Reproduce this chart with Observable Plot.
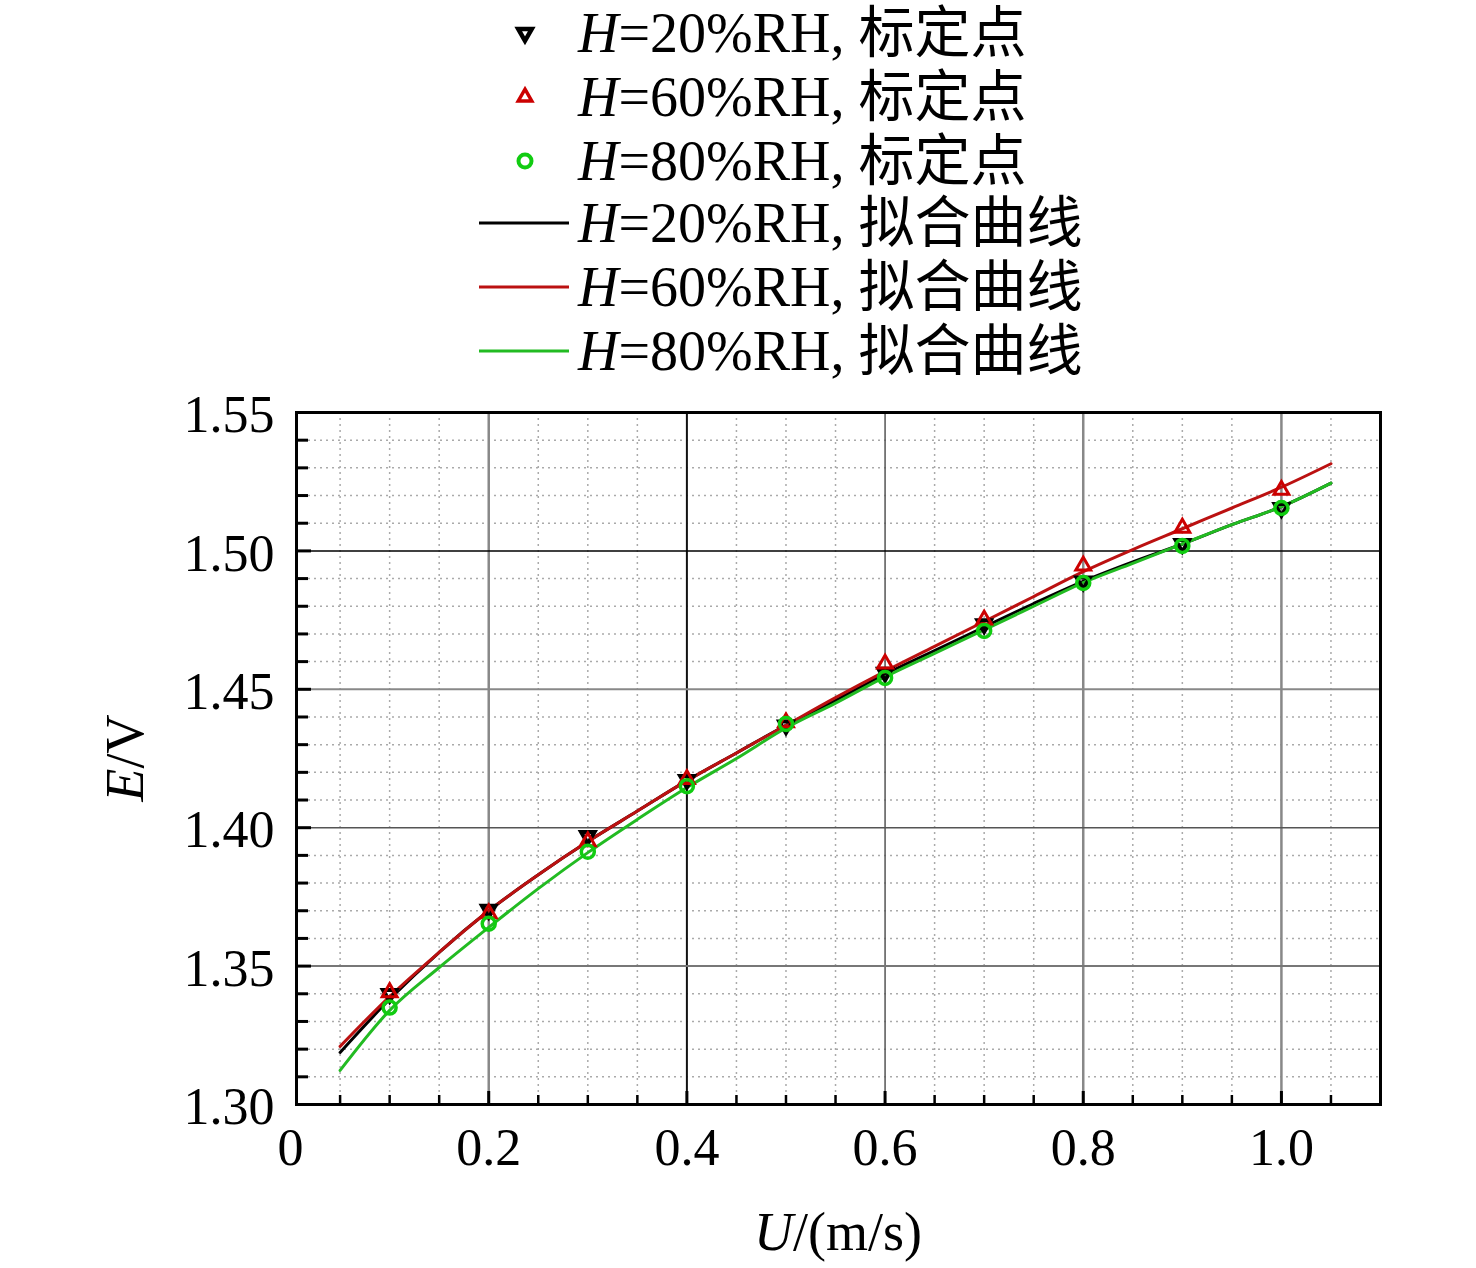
<!DOCTYPE html>
<html><head><meta charset="utf-8">
<script src="https://cdn.jsdelivr.net/npm/d3@7"></script>
<script src="https://cdn.jsdelivr.net/npm/@observablehq/plot@0.6"></script>
<style>
body{margin:0;background:#fff;}
#wrap{width:1476px;}
#legend svg,#chart svg{display:block;}
</style></head><body><div id="wrap"><div id="legend"></div><div id="chart"></div></div>
<script>
// ---- data ----
const U_cal = [0.1, 0.2, 0.3, 0.4, 0.5, 0.6, 0.7, 0.8, 0.9, 1.0];
const E20_cal = [1.340, 1.3704, 1.397, 1.4173, 1.437, 1.456, 1.4735, 1.489, 1.5025, 1.5155];
const E60_cal = [1.3405, 1.369, 1.395, 1.4175, 1.438, 1.4592, 1.4751, 1.4946, 1.5083, 1.522];
const E80_cal = [1.335, 1.3653, 1.3913, 1.415, 1.4375, 1.4541, 1.4711, 1.4884, 1.5018, 1.5155];

const U_fit = [0.05, 0.1, 0.15, 0.2, 0.25, 0.3, 0.35, 0.4, 0.45, 0.5, 0.55, 0.6, 0.65, 0.7, 0.75, 0.8, 0.85, 0.9, 0.95, 1.0, 1.05];
const E20_fit = [1.3188, 1.338, 1.355, 1.370, 1.383, 1.395, 1.406, 1.417, 1.427, 1.437, 1.446, 1.4555, 1.464, 1.4725, 1.481, 1.489, 1.496, 1.5025, 1.5095, 1.516, 1.5245];
const E60_fit = [1.321, 1.339, 1.355, 1.370, 1.383, 1.395, 1.406, 1.417, 1.427, 1.437, 1.447, 1.4565, 1.4655, 1.4745, 1.4835, 1.4925, 1.5005, 1.508, 1.5155, 1.523, 1.5315];
const E80_fit = [1.3123, 1.334, 1.3495, 1.364, 1.378, 1.391, 1.403, 1.4145, 1.425, 1.436, 1.445, 1.4545, 1.463, 1.4715, 1.480, 1.4885, 1.4955, 1.5025, 1.5095, 1.516, 1.5245];

const xLabelTicks = [0, 0.2, 0.4, 0.6, 0.8, 1.0];
const yLabelTicks = [1.30, 1.35, 1.40, 1.45, 1.50, 1.55];
const xMinorTicks = [0.05, 0.1, 0.15, 0.25, 0.3, 0.35, 0.45, 0.5, 0.55, 0.65, 0.7, 0.75, 0.85, 0.9, 0.95, 1.05];
const yMinorTicks = [1.31,1.32,1.33,1.34,1.36,1.37,1.38,1.39,1.41,1.42,1.43,1.44,1.46,1.47,1.48,1.49,1.51,1.52,1.53,1.54];

const legendSeries = ["20", "60", "80"];
const legendPointText = "标定点";
const legendFitText = "拟合曲线";
const xTitle = ["U", "/(m/s)"];
const yTitle = ["E", "/V"];

// ---- styles ----
const FONT = '"Liberation Serif","Times New Roman","Noto Sans CJK SC",serif';
const C20 = "#000000", C60 = "#bb1111", C80 = "#22bb22";
const M60 = "#cc0000", M80 = "#11cc11";

const fit20 = U_fit.map((u, i) => ({u, e: E20_fit[i]}));
const fit60 = U_fit.map((u, i) => ({u, e: E60_fit[i]}));
const fit80 = U_fit.map((u, i) => ({u, e: E80_fit[i]}));
const cal20 = U_cal.map((u, i) => ({u, e: E20_cal[i]}));
const cal60 = U_cal.map((u, i) => ({u, e: E60_cal[i]}));
const cal80 = U_cal.map((u, i) => ({u, e: E80_cal[i]}));

const fmtX = d => d === 0 ? "0" : d.toFixed(1);
const fmtY = d => d.toFixed(2);

const plot = Plot.plot({
  width: 1476, height: 878,
  marginTop: 22, marginBottom: 164, marginLeft: 296, marginRight: 96,
  style: {fontFamily: FONT, fontSize: "52px", color: "#000", background: "white", overflow: "visible"},
  x: {domain: [0.006, 1.1]},
  y: {domain: [1.30, 1.55]},
  marks: [
    Plot.gridX(xMinorTicks, {stroke: "#aaa", strokeOpacity: 1, strokeWidth: 1.5, strokeDasharray: "2,4"}),
    Plot.gridY(yMinorTicks, {stroke: "#aaa", strokeOpacity: 1, strokeWidth: 1.5, strokeDasharray: "2,4"}),
    Plot.gridX([0.2, 0.8, 1.0], {stroke: "#888", strokeOpacity: 1, strokeWidth: 2.5}),
    Plot.gridX([0.4], {stroke: "#111", strokeOpacity: 1, strokeWidth: 2}),
    Plot.gridX([0.6], {stroke: "#555", strokeOpacity: 1, strokeWidth: 1.5}),
    Plot.gridY([1.35], {stroke: "#777", strokeOpacity: 1, strokeWidth: 2}),
    Plot.gridY([1.40], {stroke: "#555", strokeOpacity: 1, strokeWidth: 1.5}),
    Plot.gridY([1.45], {stroke: "#888", strokeOpacity: 1, strokeWidth: 2}),
    Plot.gridY([1.50], {stroke: "#000", strokeOpacity: 1, strokeWidth: 1.5}),
    // inward ticks
    Plot.axisX(xMinorTicks, {tickSize: -9, tickFormat: () => "", strokeWidth: 2.5, label: null}),
    Plot.axisX(xLabelTicks.filter(d => d > 0), {tickSize: -13, tickFormat: () => "", strokeWidth: 3, label: null}),
    Plot.axisY(yMinorTicks, {tickSize: -12, tickFormat: () => "", strokeWidth: 3, label: null}),
    Plot.axisY(yLabelTicks, {tickSize: -15, tickFormat: () => "", strokeWidth: 3, label: null}),
    // labels
    Plot.axisX(xLabelTicks, {tickSize: 0, tickPadding: 24, tickFormat: fmtX, label: null}),
    Plot.axisY(yLabelTicks, {tickSize: 0, tickPadding: 22, tickFormat: fmtY, label: null, dy: 3}),
    // fitted curves
    Plot.line(fit20, {x: "u", y: "e", stroke: C20, strokeWidth: 3, curve: "monotone-x"}),
    Plot.line(fit60, {x: "u", y: "e", stroke: C60, strokeWidth: 3, curve: "monotone-x"}),
    Plot.line(fit80, {x: "u", y: "e", stroke: C80, strokeWidth: 3, curve: "monotone-x"}),
    // calibration points
    Plot.dot(cal20, {x: "u", y: "e", symbol: "triangle", rotate: 180, r: 5, stroke: C20, strokeWidth: 4, fill: "none"}),
    Plot.dot(cal60, {x: "u", y: "e", symbol: "triangle", r: 5.5, stroke: M60, strokeWidth: 3, fill: "none"}),
    Plot.dot(cal80, {x: "u", y: "e", symbol: "circle", r: 6.5, stroke: M80, strokeWidth: 3.5, fill: "none"}),
    Plot.frame({stroke: "#000", strokeWidth: 3})
  ]
});
document.getElementById("chart").appendChild(plot);

// axis titles with italic variable letters
const svg = d3.select(plot);
const xt = svg.append("text").attr("x", 838).attr("y", 860)
  .attr("text-anchor", "middle").attr("font-family", FONT).attr("font-size", 54).attr("fill", "#000");
xt.append("tspan").attr("font-style", "italic").text(xTitle[0]);
xt.append("tspan").text(xTitle[1]);
const yt = svg.append("text").attr("transform", "translate(143,368) rotate(-90)")
  .attr("text-anchor", "middle").attr("font-family", FONT).attr("font-size", 54).attr("fill", "#000");
yt.append("tspan").attr("font-style", "italic").text(yTitle[0]);
yt.append("tspan").text(yTitle[1]);

// legend
const leg = d3.create("svg").attr("width", 1476).attr("height", 390);
const rowY = [33, 97, 161, 223, 287, 351];
const markerDefs = [
  {type: d3.symbolTriangle, r: 5, rot: 180, color: C20, sw: 4.5},
  {type: d3.symbolTriangle, r: 5, rot: 0, color: M60, sw: 3.5},
  {type: d3.symbolCircle, r: 6.5, rot: 0, color: M80, sw: 4}
];
const lineColors = [C20, C60, C80];
const LFS = 56;
legendSeries.forEach((h, i) => {
  const m = markerDefs[i];
  leg.append("path")
    .attr("d", d3.symbol(m.type, Math.PI * m.r * m.r)())
    .attr("transform", `translate(525,${rowY[i]}) rotate(${m.rot})`)
    .attr("fill", "none").attr("stroke", m.color).attr("stroke-width", m.sw);
  const t = leg.append("text").attr("x", 578).attr("y", rowY[i] + 19)
    .attr("font-family", FONT).attr("font-size", LFS).attr("fill", "#000");
  t.append("tspan").attr("font-style", "italic").text("H");
  t.append("tspan").text(`=${h}%RH, ${legendPointText}`);
});
legendSeries.forEach((h, i) => {
  const y = rowY[i + 3];
  leg.append("line").attr("x1", 479).attr("x2", 569).attr("y1", y).attr("y2", y)
    .attr("stroke", lineColors[i]).attr("stroke-width", 3);
  const t = leg.append("text").attr("x", 578).attr("y", y + 19)
    .attr("font-family", FONT).attr("font-size", LFS).attr("fill", "#000");
  t.append("tspan").attr("font-style", "italic").text("H");
  t.append("tspan").text(`=${h}%RH, ${legendFitText}`);
});
document.getElementById("legend").appendChild(leg.node());
</script>
</body></html>
